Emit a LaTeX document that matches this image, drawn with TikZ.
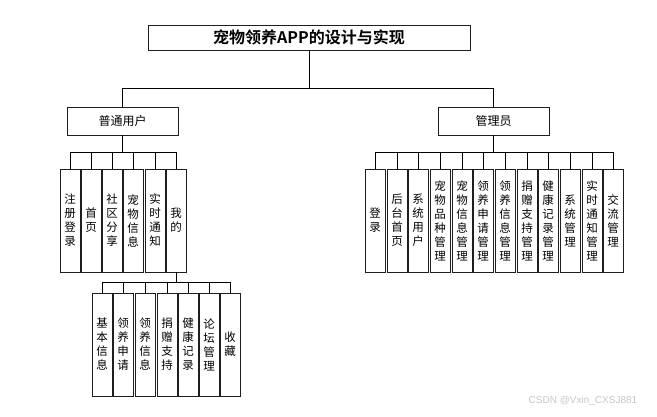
\documentclass[tikz,border=0pt]{standalone}
\usepackage{fontspec}
\usepackage{tikz}
\usetikzlibrary{positioning, calc}
\newfontfamily\cjk{Noto Sans CJK SC}
\newfontfamily\cjkbold{Noto Sans CJK SC Bold}
\newfontfamily\wmfont{Liberation Sans}
\definecolor{BoxLine}{RGB}{30, 30, 30}
\tikzset{
  titlebox/.style={draw=BoxLine, line width=0.8pt, minimum width=322pt, minimum height=25pt, inner sep=0pt, font=\cjkbold\fontsize{16}{18}\selectfont},
  rolebox/.style={draw=BoxLine, line width=0.8pt, minimum width=111pt, minimum height=28pt, inner sep=0pt, font=\cjk\fontsize{12}{14}\selectfont},
  leafbox/.style={draw=BoxLine, line width=0.8pt, minimum width=20pt, minimum height=103pt, inner sep=0pt, align=center, font=\cjk\fontsize{11.5}{14}\selectfont},
  link/.style={draw=black, line width=0.7pt},
}

\begin{document}
\begin{tikzpicture}[x=1pt, y=-1pt]
  \useasboundingbox (0,0) rectangle (657,416);

  % top level
  \node[titlebox] (title) at (309,37.5) {宠物领养APP的设计与实现};
  \node[rolebox] (user) at (122.5,121) {普通用户};
  \node[rolebox] (admin) at (493.5,121) {管理员};
  \coordinate (topbus) at (0,88);
  \draw[link] (title.south) -- (title.south |- topbus);
  \draw[link] (user.north |- topbus) -- (admin.north |- topbus);
  \draw[link] (user.north |- topbus) -- (user.north);
  \draw[link] (admin.north |- topbus) -- (admin.north);

  % user side
  \foreach \name/\x/\txt in {u1/70/注\\册\\登\\录, u2/91/首\\页, u3/112/社\\区\\分\\享,
      u4/133/宠\\物\\信\\息, u5/155/实\\时\\通\\知, u6/176/我\\的}
    \node[leafbox] (\name) at (\x,220.5) {\txt};
  \coordinate (ubus) at (0,152);
  \draw[link] (user.south) -- (user.south |- ubus);
  \draw[link] (u1.north |- ubus) -- (u6.north |- ubus);
  \foreach \i in {1,...,6}
    \draw[link] (u\i.north |- ubus) -- (u\i.north);

  % sub items of 我的
  \foreach \name/\x/\txt in {m1/102/基\\本\\信\\息, m2/123/领\\养\\申\\请, m3/145/领\\养\\信\\息,
      m4/167/捐\\赠\\支\\持, m5/188/健\\康\\记\\录, m6/209/论\\坛\\管\\理, m7/230/收\\藏}
    \node[leafbox] (\name) at (\x,344.5) {\txt};
  \coordinate (mbus) at (0,282);
  \draw[link] (u6.south) -- (u6.south |- mbus);
  \draw[link] (m1.north |- mbus) -- (m7.north |- mbus);
  \foreach \i in {1,...,7}
    \draw[link] (m\i.north |- mbus) -- (m\i.north);

  % admin side
  \foreach \name/\x/\txt in {a1/375/登\\录, a2/397/后\\台\\首\\页, a3/418/系\\统\\用\\户,
      a4/440/宠\\物\\品\\种\\管\\理, a5/462/宠\\物\\信\\息\\管\\理, a6/483/领\\养\\申\\请\\管\\理,
      a7/505/领\\养\\信\\息\\管\\理, a8/527/捐\\赠\\支\\持\\管\\理, a9/548/健\\康\\记\\录\\管\\理,
      a10/570/系\\统\\管\\理, a11/592/实\\时\\通\\知\\管\\理, a12/613/交\\流\\管\\理}
    \node[leafbox] (\name) at (\x,220.5) {\txt};
  \coordinate (abus) at (0,152);
  \draw[link] (admin.south) -- (admin.south |- abus);
  \draw[link] (a1.north |- abus) -- (a12.north |- abus);
  \foreach \i in {1,...,12}
    \draw[link] (a\i.north |- abus) -- (a\i.north);

  % watermark
  \node[text=gray!45, font=\wmfont\fontsize{10}{12}\selectfont] (mark) at (583,401) {CSDN @Vxin\_CXSJ881};
\end{tikzpicture}
\end{document}
